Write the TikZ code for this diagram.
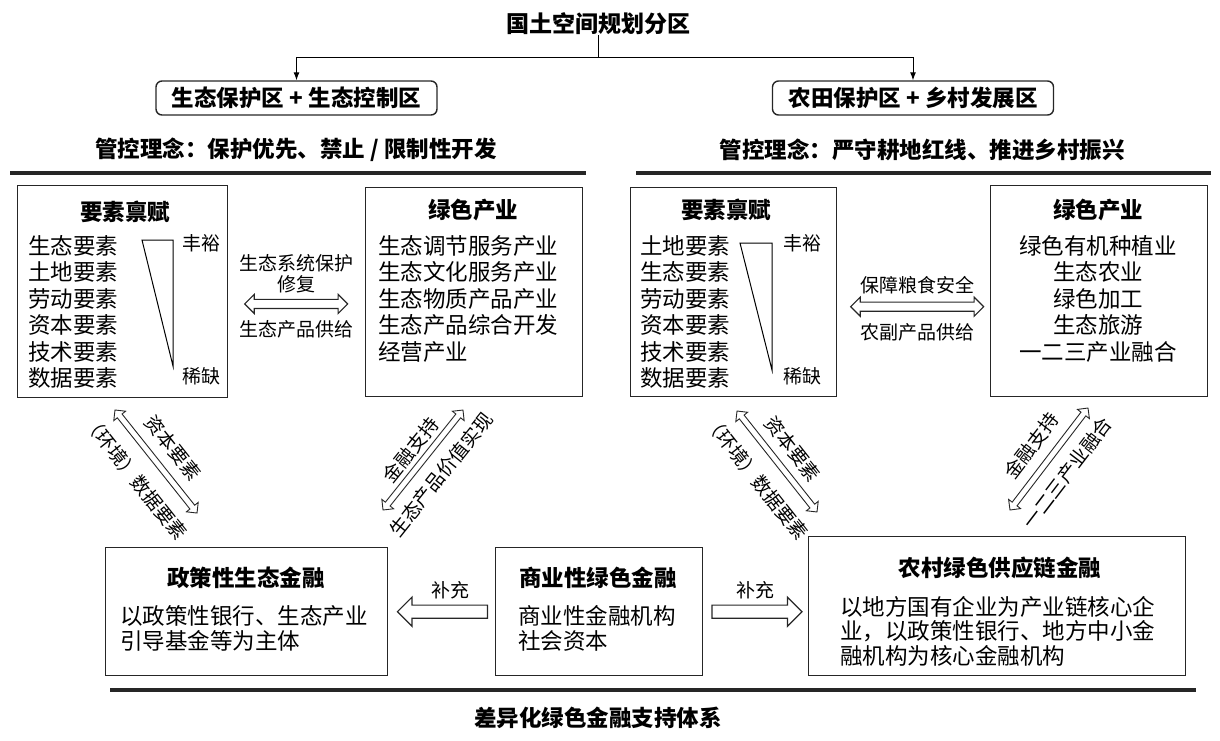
\documentclass[tikz,border=0pt]{standalone}
\usepackage{fontspec}
\setmainfont{Noto Sans CJK SC}
\usetikzlibrary{arrows.meta,shapes.arrows,positioning}

\begin{document}
\begin{tikzpicture}[x=1pt, y=-1pt,
  every node/.style={inner sep=0pt, font=\fontsize{22.5}{26.5}\selectfont},
  head/.style={font=\fontsize{22.5}{26.5}\selectfont\bfseries},
  small/.style={font=\fontsize{19}{21}\selectfont},
  panel/.style={draw=black!85, line width=1.4pt, anchor=north west},
  zone/.style={draw=black!85, line width=1.4pt, rounded corners=6pt, minimum width=281pt, minimum height=34pt, font=\fontsize{22.5}{26.5}\selectfont\bfseries},
  rule/.style={line width=4pt, black!85},
  hollowPair/.style={double arrow, draw=black!85, line width=1.1pt, inner sep=4pt, double arrow head extend=5pt},
  hollowSlim/.style={double arrow, draw=black!85, line width=0.9pt, inner sep=2.6pt, double arrow head extend=4.5pt, sloped},
  supplement/.style={draw=black!85, line width=1.2pt, single arrow, single arrow head extend=8pt, inner sep=6pt, minimum height=90pt}
]
\useasboundingbox (0,0) rectangle (1220,740);

\node[head, font=\fontsize{23}{27}\selectfont\bfseries] (plan) at (598,24) {国土空间规划分区};
\node[zone] (ecoZone) at (296.5,98) {生态保护区 + 生态控制区};
\node[zone] (farmZone) at (913,98) {农田保护区 + 乡村发展区};
\coordinate (fork) at (598,57);
\draw[line width=1pt] (plan.south) -- (fork);
\draw[line width=1pt, -{Latex[length=8pt, width=6pt]}] (fork) -| (ecoZone.north);
\draw[line width=1pt, -{Latex[length=8pt, width=6pt]}] (fork) -| (farmZone.north);

\node[head] (ideaEco) at (296,150) {管控理念：保护优先、禁止 / 限制性开发};
\node[head] (ideaFarm) at (922,150) {管控理念：严守耕地红线、推进乡村振兴};
\draw[rule] (10,173) -- (586,173);
\draw[rule] (636,173) -- (1211,173);

\node[panel, minimum width=210pt, minimum height=212pt] (endowL) at (17,185) {};
\node[head] at (125,212) {要素禀赋};
\node[anchor=north west, align=left] at (28,235) {生态要素\\土地要素\\劳动要素\\资本要素\\技术要素\\数据要素};
\draw[line width=1pt] (142,240) -- (173,240) -- (173,366) -- cycle;
\node[small] at (201,243) {丰裕};
\node[small] at (201,376) {稀缺};

\node[panel, minimum width=217pt, minimum height=209pt] (greenL) at (365,187) {};
\node[head] at (473,210) {绿色产业};
\node[anchor=north west, align=left] at (378,235) {生态调节服务产业\\生态文化服务产业\\生态物质产品产业\\生态产品综合开发\\经营产业};

\path ([xshift=17pt,yshift=-12pt]endowL.east) -- node[hollowPair, minimum height=103pt] {} node[small, above=11pt, align=center] {生态系统保护\\修复} node[small, below=16pt] {生态产品供给} ([xshift=-18pt,yshift=-12pt]greenL.west);

\node[panel, minimum width=206pt, minimum height=209pt] (endowR) at (630,187) {};
\node[head] at (726,210) {要素禀赋};
\node[anchor=north west, align=left] at (640,235) {土地要素\\生态要素\\劳动要素\\资本要素\\技术要素\\数据要素};
\draw[line width=1pt] (740,243) -- (772,243) -- (772,370) -- cycle;
\node[small] at (802,243) {丰裕};
\node[small] at (802,376) {稀缺};

\node[panel, minimum width=217pt, minimum height=211pt] (greenR) at (990,185) {};
\node[head] at (1098,210) {绿色产业};
\node[anchor=north, align=center] at (1098,235) {绿色有机种植业\\生态农业\\绿色加工\\生态旅游\\一二三产业融合};

\path ([xshift=14pt,yshift=-14.5pt]endowR.east) -- node[hollowPair, minimum height=133pt] {} node[small, above=12pt] {保障粮食安全} node[small, below=17pt] {农副产品供给} ([xshift=-7pt,yshift=-15.5pt]greenR.west);

\coordinate (capTopL) at (115,410);
\coordinate (capEndL) at (197,513);
\coordinate (finEndL) at (383,510);
\coordinate (finTopL) at (463,410);
\path (capTopL) -- node[hollowSlim, minimum height=131.7pt] {} node[small, sloped, above=13pt] {资本要素} node[small, sloped, below=17pt] {（环境）数据要素} (capEndL);
\path (finEndL) -- node[hollowSlim, minimum height=128pt] {} node[small, sloped, above=7pt] {金融支持} node[small, sloped, below=14pt] {生态产品价值实现} (finTopL);

\coordinate (capTopR) at (737,411);
\coordinate (capEndR) at (817,512);
\coordinate (finEndR) at (1010,510);
\coordinate (finTopR) at (1088,408);
\path (capTopR) -- node[hollowSlim, minimum height=128.8pt] {} node[small, sloped, above=11pt] {资本要素} node[small, sloped, below=17pt] {（环境）数据要素} (capEndR);
\path (finEndR) -- node[hollowSlim, minimum height=128.4pt] {} node[small, sloped, above=13pt] {金融支持} node[small, sloped, below=14pt] {一二三产业融合} (finTopR);

\node[panel, minimum width=282pt, minimum height=128pt] (policy) at (105,547) {};
\node[head] at (246,578) {政策性生态金融};
\node[anchor=north west, align=left, font=\fontsize{22.5}{25.5}\selectfont] at (120,605) {以政策性银行、生态产业\\引导基金等为主体};

\node[panel, minimum width=207pt, minimum height=128pt] (commerce) at (495,547) {};
\node[head] at (598,578) {商业性绿色金融};
\node[anchor=north west, align=left, font=\fontsize{22.5}{25.5}\selectfont] at (518,605) {商业性金融机构\\社会资本};

\node[panel, minimum width=377pt, minimum height=139pt] (supply) at (808,536) {};
\node[head] at (1000,568) {农村绿色供应链金融};
\node[anchor=north west, align=left, font=\fontsize{22.5}{24.5}\selectfont] at (840,596) {以地方国有企业为产业链核心企\\业，以政策性银行、地方中小金\\融机构为核心金融机构};

\node[supplement, shape border rotate=180, anchor=tail] (toPolicy) at ([xshift=-7pt]commerce.west) {};
\node[small] (supLabelL) at (450,590) {补充};
\node[supplement, anchor=tail] (toSupply) at ([xshift=8pt]commerce.east) {};
\node[small] (supLabelR) at (755,590) {补充};

\draw[rule] (110,690) -- (1196,690);
\node[head] (system) at (598,718) {差异化绿色金融支持体系};
\end{tikzpicture}
\end{document}
